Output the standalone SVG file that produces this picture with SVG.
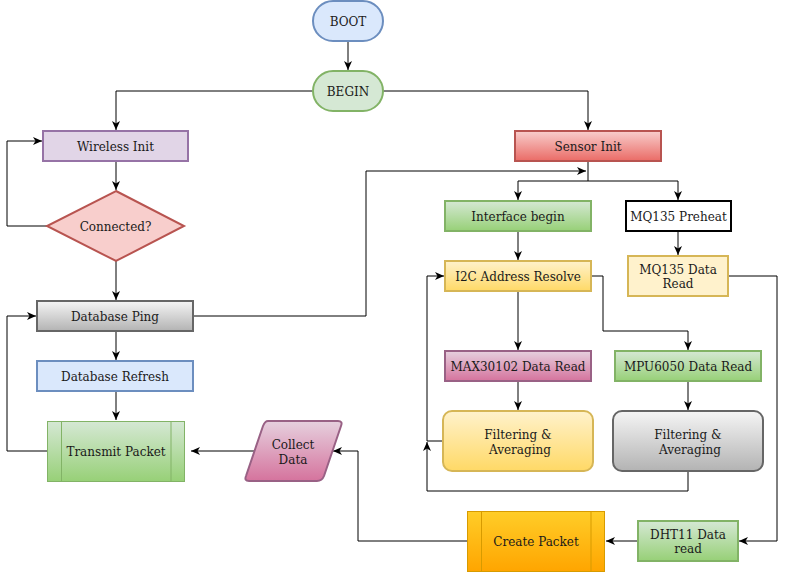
<svg xmlns="http://www.w3.org/2000/svg" width="787" height="572" viewBox="0 0 787 572">
<defs>
<linearGradient id="gGreen" x1="0" y1="0" x2="0" y2="1"><stop offset="0" stop-color="#d5e8d4"/><stop offset="1" stop-color="#97d077"/></linearGradient>
<linearGradient id="gGray" x1="0" y1="0" x2="0" y2="1"><stop offset="0" stop-color="#f5f5f5"/><stop offset="1" stop-color="#b3b3b3"/></linearGradient>
<linearGradient id="gRed" x1="0" y1="0" x2="0" y2="1"><stop offset="0" stop-color="#f8cecc"/><stop offset="1" stop-color="#ea6b66"/></linearGradient>
<linearGradient id="gYellow" x1="0" y1="0" x2="0" y2="1"><stop offset="0" stop-color="#fff2cc"/><stop offset="1" stop-color="#ffd966"/></linearGradient>
<linearGradient id="gPink" x1="0" y1="0" x2="0" y2="1"><stop offset="0" stop-color="#e6d0de"/><stop offset="1" stop-color="#d5739d"/></linearGradient>
<linearGradient id="gOrange" x1="0" y1="0" x2="0" y2="1"><stop offset="0" stop-color="#ffcd28"/><stop offset="1" stop-color="#ffa500"/></linearGradient>
<marker id="arr" markerUnits="userSpaceOnUse" markerWidth="10" markerHeight="8" viewBox="0 0 10 8" refX="9" refY="4" orient="auto">
<path d="M0,0 L9,4 L0,8 L2.5,4 Z" fill="#000"/>
</marker>
</defs>
<style>
text{font-family:"DejaVu Serif","Liberation Serif",serif;font-size:12px;fill:#1a1a1a;text-anchor:middle;dominant-baseline:central}
.e{fill:none;stroke:#000;stroke-width:1;marker-end:url(#arr)}
</style>
<g id="edges">
<path class="e" d="M348,41 V70"/>
<path class="e" d="M313,91 H116 V130"/>
<path class="e" d="M383,91 H588 V130"/>
<path class="e" d="M116,161 V190"/>
<path class="e" d="M47,226 H7 V141 H42"/>
<path class="e" d="M116,261 V300"/>
<path class="e" d="M194,316 H366 V171 H586"/>
<path class="e" d="M588,161 V181 H518 V200"/>
<path class="e" d="M588,181 H678 V200"/>
<path class="e" d="M116,331 V360"/>
<path class="e" d="M116,391 V420"/>
<path class="e" d="M47,451 H7 V316 H36"/>
<path class="e" d="M254,451 H191"/>
<path class="e" d="M467,541 H358 V451 H333"/>
<path class="e" d="M638,541 H606"/>
<path class="e" d="M728,276 H777 V541 H739"/>
<path class="e" d="M518,231 V260"/>
<path class="e" d="M678,231 V255"/>
<path class="e" d="M518,291 V350"/>
<path class="e" d="M591,276 H603 V331 H688 V350"/>
<path class="e" d="M518,381 V410"/>
<path class="e" d="M688,381 V410"/>
<path class="e" d="M443,441 H427 V276 H444"/>
<path class="e" d="M688,471 V491 H427 V442"/>
</g>
<g id="boot"><rect x="313" y="1" width="70" height="40" rx="20" fill="#dae8fc" stroke="#6c8ebf" stroke-width="2"/><text x="348" y="22">BOOT</text></g>
<g id="begin"><rect x="313" y="71" width="70" height="40" rx="20" fill="#d5e8d4" stroke="#82b366" stroke-width="2"/><text x="348" y="92">BEGIN</text></g>
<g id="wireless"><rect x="43" y="131" width="145" height="30" fill="#e1d5e7" stroke="#9673a6" stroke-width="2"/><text x="115.5" y="147">Wireless Init</text></g>
<g id="connected"><polygon points="116,191 184,226 116,261 47,226" fill="#f8cecc" stroke="#b85450" stroke-width="2"/><text x="115.5" y="227">Connected?</text></g>
<g id="ping"><rect x="37" y="301" width="156" height="30" fill="url(#gGray)" stroke="#666666" stroke-width="2"/><text x="115" y="317">Database Ping</text></g>
<g id="refresh"><rect x="37" y="361" width="156" height="30" fill="#dae8fc" stroke="#6c8ebf" stroke-width="2"/><text x="115" y="377">Database Refresh</text></g>
<g id="transmit"><rect x="47.5" y="421.5" width="137" height="60" fill="url(#gGreen)" stroke="#82b366"/><path d="M61.5,421.5 V481.5 M171,421.5 V481.5" stroke="#82b366" fill="none"/><text x="116" y="452">Transmit Packet</text></g>
<g id="collect"><path d="M268,421 H338 Q343,421 341,426 L324,476 Q322,481 317,481 H249 Q244,481 246,476 L263,426 Q265,421 268,421 Z" fill="url(#gPink)" stroke="#996185" stroke-width="2"/><text x="293" y="445">Collect</text><text x="293" y="459.5">Data</text></g>
<g id="sensor"><rect x="515" y="131" width="146" height="30" fill="url(#gRed)" stroke="#b85450" stroke-width="2"/><text x="588" y="147">Sensor Init</text></g>
<g id="iface"><rect x="445" y="201" width="146" height="30" fill="url(#gGreen)" stroke="#82b366" stroke-width="2"/><text x="518" y="217">Interface begin</text></g>
<g id="preheat"><rect x="626" y="201" width="105" height="30" fill="#ffffff" stroke="#000000" stroke-width="2"/><text x="678.5" y="217">MQ135 Preheat</text></g>
<g id="i2c"><rect x="445" y="261" width="146" height="30" fill="url(#gYellow)" stroke="#d6b656" stroke-width="2"/><text x="518" y="277">I2C Address Resolve</text></g>
<g id="mqread"><rect x="628" y="256" width="100" height="40" fill="#fff2cc" stroke="#d6b656" stroke-width="2"/><text x="678" y="270">MQ135 Data</text><text x="678" y="284">Read</text></g>
<g id="max"><rect x="445" y="351" width="146" height="30" fill="url(#gPink)" stroke="#996185" stroke-width="2"/><text x="518" y="367">MAX30102 Data Read</text></g>
<g id="mpu"><rect x="615" y="351" width="146" height="30" fill="url(#gGreen)" stroke="#82b366" stroke-width="2"/><text x="688" y="367">MPU6050 Data Read</text></g>
<g id="filtL"><rect x="443" y="411" width="150" height="60" rx="9" fill="url(#gYellow)" stroke="#d6b656" stroke-width="2"/><text x="518" y="435">Filtering &amp;</text><text x="520" y="449.5">Averaging</text></g>
<g id="filtR"><rect x="613" y="411" width="150" height="60" rx="9" fill="url(#gGray)" stroke="#666666" stroke-width="2"/><text x="688" y="435">Filtering &amp;</text><text x="690" y="449.5">Averaging</text></g>
<g id="create"><rect x="467.5" y="511.5" width="137" height="60" fill="url(#gOrange)" stroke="#d79b00"/><path d="M481.5,511.5 V571.5 M591,511.5 V571.5" stroke="#d79b00" fill="none"/><text x="536" y="542">Create Packet</text></g>
<g id="dht"><rect x="638" y="521" width="100" height="40" fill="url(#gGreen)" stroke="#82b366" stroke-width="2"/><text x="688" y="535">DHT11 Data</text><text x="688" y="549">read</text></g>
</svg>
